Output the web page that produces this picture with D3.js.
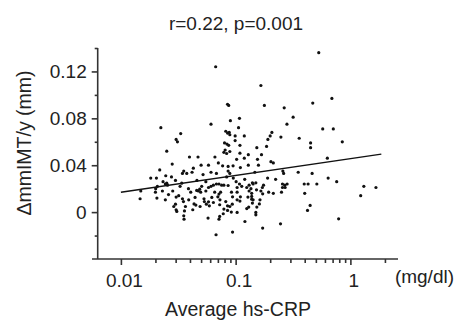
<!DOCTYPE html>
<meta charset="utf-8">
<script src="https://d3js.org/d3.v7.min.js"></script>
<style>
  body { margin: 0; background: #fff; }
  text { font-family: "Liberation Sans", Arial, sans-serif; fill: #222; }
</style>
<div id="chart"></div>
<script>

  // values: [average hs-CRP (mg/dl), delta mmIMT per year (mm)]
  const points = [
    [0.53,0.136],[0.067,0.124],[0.166,0.108],[0.47,0.093],[0.69,0.097],[0.085,0.092],[0.087,0.091],[0.178,0.091],[0.265,0.089],[0.317,0.081],
    [0.061,0.075],[0.09,0.078],[0.108,0.080],[0.106,0.072],[0.28,0.075],[0.0223,0.072],[0.0332,0.067],[0.0303,0.062],[0.0311,0.060],[0.358,0.063],
    [0.574,0.071],[0.71,0.071],[0.119,0.065],[0.207,0.068],[0.2,0.065],[0.248,0.064],[0.082,0.069],[0.088,0.068],[0.085,0.0674],[0.089,0.066],
    [0.099,0.065],[0.85,0.060],[0.45,0.059],[0.45,0.055],[0.191,0.062],[0.186,0.056],[0.153,0.055],[0.080,0.059],[0.084,0.058],[0.087,0.057],
    [0.109,0.057],[0.099,0.061],[0.0251,0.052],[0.081,0.053],[0.079,0.051],[0.0835,0.050],[0.089,0.0517],[0.109,0.0503],[0.129,0.049],[0.119,0.046],
    [0.168,0.049],[0.066,0.047],[0.0396,0.047],[0.047,0.047],[0.102,0.045],[0.155,0.045],[0.158,0.040],[0.203,0.043],[0.213,0.042],[0.129,0.040],
    [0.028,0.041],[0.0707,0.042],[0.050,0.040],[0.058,0.040],[0.63,0.046],[0.077,0.0395],[0.086,0.039],[0.095,0.0395],[0.110,0.038],[0.0218,0.036],
    [0.0353,0.035],[0.0375,0.033],[0.0344,0.033],[0.0417,0.034],[0.061,0.034],[0.068,0.033],[0.086,0.035],[0.089,0.033],[0.147,0.034],[0.258,0.035],
    [0.262,0.033],[0.351,0.034],[0.464,0.033],[0.0276,0.030],[0.052,0.032],[0.0835,0.030],[0.0182,0.029],[0.0204,0.029],[0.0246,0.031],[0.0299,0.027],
    [0.0251,0.0247],[0.0233,0.026],[0.046,0.027],[0.055,0.026],[0.101,0.026],[0.140,0.025],[0.190,0.029],[0.223,0.028],[0.64,0.029],[0.76,0.026],
    [0.0244,0.024],[0.0255,0.023],[0.0208,0.022],[0.0201,0.020],[0.0328,0.022],[0.0388,0.020],[0.0486,0.0196],[0.0506,0.022],[0.058,0.021],[0.061,0.022],
    [0.064,0.023],[0.068,0.024],[0.0716,0.024],[0.079,0.023],[0.086,0.0227],[0.108,0.024],[0.103,0.021],[0.131,0.023],[0.142,0.024],[0.150,0.025],
    [0.175,0.023],[0.171,0.021],[0.256,0.024],[0.268,0.023],[0.281,0.024],[0.256,0.021],[0.396,0.024],[0.428,0.024],[0.51,0.024],[1.31,0.022],
    [1.67,0.021],[0.0149,0.018],[0.023,0.018],[0.0283,0.018],[0.0406,0.017],[0.0473,0.018],[0.0496,0.017],[0.055,0.018],[0.0657,0.017],[0.074,0.017],
    [0.0716,0.0154],[0.092,0.017],[0.103,0.017],[0.136,0.020],[0.131,0.018],[0.138,0.016],[0.166,0.018],[0.194,0.017],[0.213,0.016],[0.251,0.017],
    [0.40,0.016],[1.23,0.014],[0.020,0.017],[0.026,0.015],[0.0319,0.014],[0.0303,0.0128],[0.0344,0.0114],[0.039,0.0105],[0.0443,0.0125],[0.053,0.0114],
    [0.062,0.0125],[0.070,0.013],[0.094,0.013],[0.110,0.013],[0.128,0.0128],[0.138,0.011],[0.0147,0.0114],[0.0206,0.012],[0.0244,0.0105],[0.0534,0.009],
    [0.0434,0.007],[0.0351,0.009],[0.064,0.0082],[0.073,0.0105],[0.082,0.009],[0.103,0.0105],[0.140,0.0077],[0.161,0.007],[0.0299,0.0068],[0.0289,0.0048],
    [0.0365,0.0048],[0.049,0.0048],[0.0556,0.0068],[0.059,0.0054],[0.0726,0.0063],[0.085,0.0054],[0.0935,0.0068],[0.125,0.003],[0.153,0.0043],[0.446,0.0057],
    [0.423,0.0014],[0.0307,0.0006],[0.0303,0.002],[0.0358,0.001],[0.0423,0.002],[0.079,0.0026],[0.085,0.0014],[0.0917,0.0],[0.103,-0.0003],[0.150,-0.0003],
    [0.0353,-0.0031],[0.0355,-0.006],[0.0575,-0.0051],[0.0726,-0.0037],[0.0716,-0.006],[0.1205,-0.008],[0.246,-0.010],[0.79,-0.0057],[0.172,-0.0136],[0.094,-0.017],
    [0.0675,-0.0193],[0.078,-0.0014],[0.045,0.006],[0.089,0.0048],[0.058,0.0088],[0.0428,0.0375],[0.0339,0.0247],[0.0954,0.029],[0.113,0.022],[0.0458,0.0185],
    [0.0755,0.023],[0.172,0.0156],[0.270,0.021],[0.138,0.0134],[0.142,0.0105],[0.125,0.021],[0.120,0.028],[0.152,0.019],[0.163,0.0105],[0.130,0.0043],
    [0.150,-0.0023],[0.109,0.0094]
  ];

  // regression line end points
  const fitX = [0.01, 1.86];
  const fitY = [0.017, 0.0495];

  const xDomain = [0.0056, 2.6];
  const yDomain = [-0.04, 0.14];
  const xMajor = [0.01, 0.1, 1];
  const xMajorLabels = ["0.01", "0.1", "1"];
  const xMinor = [0.02, 0.03, 0.04, 0.05, 0.06, 0.07, 0.08, 0.09,
                  0.2, 0.3, 0.4, 0.5, 0.6, 0.7, 0.8, 0.9, 2];
  const yMajor = [0, 0.04, 0.08, 0.12];
  const yMajorLabels = ["0", "0.04", "0.08", "0.12"];
  const yMinor = [-0.02, 0.02, 0.06, 0.10, 0.14];

  const title = "r=0.22, p=0.001";
  const xTitle = "Average hs-CRP";
  const xUnit = "(mg/dl)";
  const yTitle = "\u0394mmIMT/y (mm)";

  const W = 456, H = 323;
  const svg = d3.select("#chart").append("svg")
    .attr("width", W).attr("height", H);

  const x = d3.scaleLog().domain(xDomain).range([92, 398]);
  const y = d3.scaleLinear().domain(yDomain).range([259, 48]);
  const yAxisX = 97.7;

  // x axis: minor ticks first, then major with labels
  const gx = svg.append("g").attr("transform", `translate(0, ${y(yDomain[0])})`);
  gx.append("g")
    .call(d3.axisBottom(x).tickValues(xMinor).tickSize(4).tickFormat(""))
    .call(g => g.select(".domain").remove());
  gx.append("g")
    .call(d3.axisBottom(x).tickValues(xMajor).tickSize(6).tickPadding(9)
      .tickFormat((d, i) => xMajorLabels[i]))
    .call(g => g.select(".domain")
      .attr("d", `M${x.range()[0]},0H${x.range()[1]}`))
    .selectAll("text").attr("font-size", 19).attr("dx", 3);
  gx.selectAll("line, path").attr("stroke", "#333").attr("stroke-width", 1.6);

  // y axis
  const gy = svg.append("g").attr("transform", `translate(${yAxisX}, 0)`);
  gy.append("g")
    .call(d3.axisLeft(y).tickValues(yMinor).tickSize(3).tickFormat(""))
    .call(g => g.select(".domain").remove());
  gy.append("g")
    .call(d3.axisLeft(y).tickValues(yMajor).tickSize(6).tickPadding(5)
      .tickFormat((d, i) => yMajorLabels[i]))
    .call(g => g.select(".domain")
      .attr("d", `M0,${y.range()[1]}V${y.range()[0]}`))
    .selectAll("text").attr("font-size", 19);
  gy.selectAll("line, path").attr("stroke", "#333").attr("stroke-width", 1.6);
  svg.selectAll(".tick text").style("fill", "#222");

  // points
  svg.append("g")
    .selectAll("circle")
    .data(points)
    .join("circle")
    .attr("cx", d => x(d[0]))
    .attr("cy", d => y(d[1]))
    .attr("r", 1.6)
    .attr("fill", "#111");

  // regression line
  svg.append("line")
    .attr("x1", x(fitX[0])).attr("y1", y(fitY[0]))
    .attr("x2", x(fitX[1])).attr("y2", y(fitY[1]))
    .attr("stroke", "#111")
    .attr("stroke-width", 1.4);

  // texts
  svg.append("text")
    .attr("x", 236).attr("y", 30)
    .attr("text-anchor", "middle")
    .attr("font-size", 19)
    .text(title);

  svg.append("text")
    .attr("x", 238).attr("y", 316)
    .attr("text-anchor", "middle")
    .attr("font-size", 19.5)
    .text(xTitle);

  svg.append("text")
    .attr("x", 454).attr("y", 283)
    .attr("text-anchor", "end")
    .attr("font-size", 19)
    .text(xUnit);

  svg.append("text")
    .attr("transform", "translate(31, 143) rotate(-90)")
    .attr("text-anchor", "middle")
    .attr("font-size", 19.5)
    .text(yTitle);

</script>
